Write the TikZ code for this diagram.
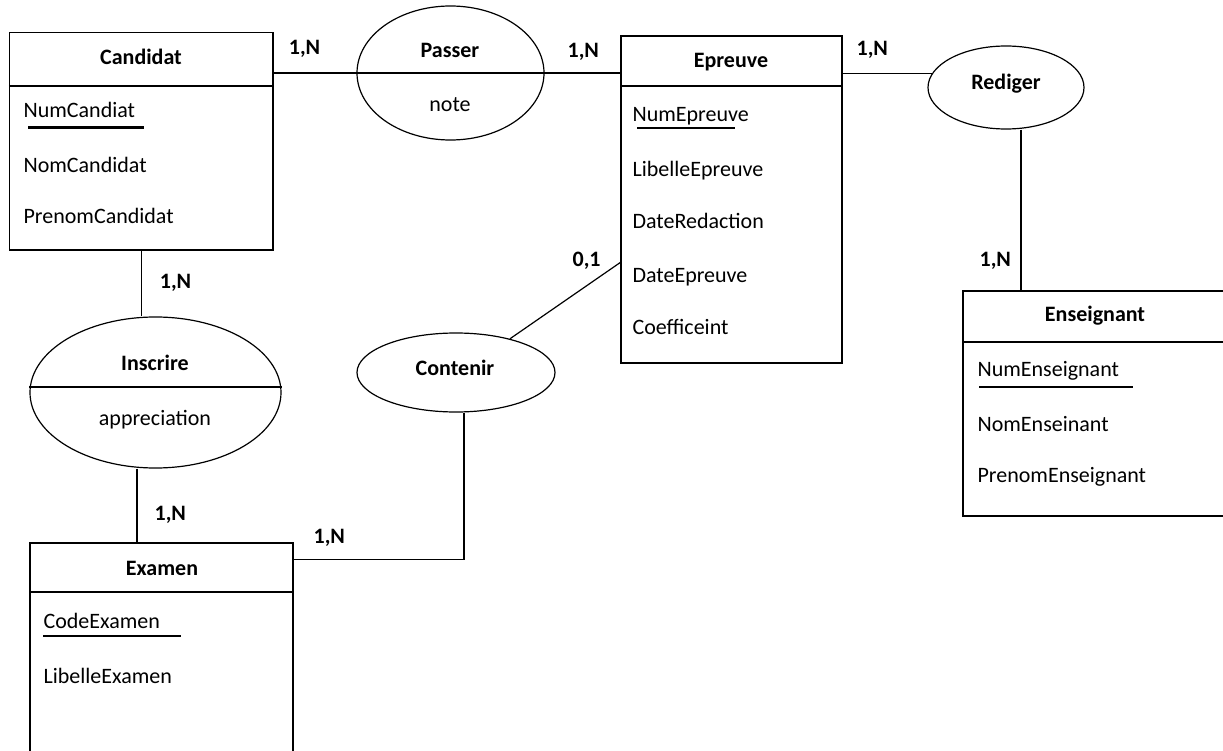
\documentclass[tikz,border=0pt]{standalone}
\usepackage{fontspec}
\setmainfont{Carlito}
\usetikzlibrary{shapes.geometric,calc}
\begin{document}
\begin{tikzpicture}[x=1pt,y=-1pt,
  line width=1.2pt,
  every node/.style={font=\fontsize{22}{26}\selectfont},
  entity/.style={draw, rectangle, inner sep=0pt},
  relation/.style={draw, ellipse, inner sep=0pt},
  ttl/.style={font=\fontsize{22}{26}\selectfont\bfseries, anchor=base, inner sep=0pt},
  attr/.style={anchor=base west, inner sep=0pt},
  card/.style={font=\fontsize{22}{26}\selectfont\bfseries, anchor=base west, inner sep=0pt},
  keyline/.style={line width=2.4pt},
  link/.style={line width=1.2pt}]
\useasboundingbox (0,0) rectangle (1223,751);
\clip (0,0) rectangle (1223,751);

% entities
\node[entity, minimum width=263.5pt, minimum height=217.3pt] (Candidat) at (141.25,141.35) {};
\node[entity, minimum width=221pt, minimum height=327pt] (Epreuve) at (731.5,199.5) {};
\node[entity, minimum width=300pt, minimum height=225pt] (Enseignant) at (1113,403.5) {};
\node[entity, minimum width=263pt, minimum height=260pt] (Examen) at (161.5,673) {};

\draw (Candidat.west |- 0,86) -- (Candidat.east |- 0,86);
\draw (Epreuve.west |- 0,86) -- (Epreuve.east |- 0,86);
\draw (Enseignant.west |- 0,342) -- (Enseignant.east |- 0,342);
\draw (Examen.west |- 0,592) -- (Examen.east |- 0,592);

% relations
\node[relation, minimum width=187pt, minimum height=134pt] (Passer) at (450.5,73) {};
\node[relation, minimum width=251pt, minimum height=151pt] (Inscrire) at (155.5,392.5) {};
\node[relation, minimum width=198pt, minimum height=79pt] (Contenir) at (456,372.5) {};
\node[relation, minimum width=156pt, minimum height=83pt] (Rediger) at (1006,87.5) {};

\draw (Passer.west) -- (Passer.east);
\draw ([yshift=5.5pt]Inscrire.west) -- ([yshift=5.5pt]Inscrire.east);

% titles
\node[ttl] (tCandidat) at (141,64.3) {Candidat};
\node[ttl] (tEpreuve) at (731,68) {Epreuve};
\node[ttl] (tEnseignant) at (1095,321.7) {Enseignant};
\node[ttl] (tExamen) at (162,575) {Examen};
\node[ttl] (tPasser) at (450,57.3) {Passer};
\node[ttl] (tInscrire) at (155,370) {Inscrire};
\node[ttl] (tContenir) at (455,375.7) {Contenir};
\node[ttl] (tRediger) at (1006,89.3) {Rediger};
\node[anchor=base, inner sep=0pt] (aNote) at (450,111.7) {note};
\node[anchor=base, inner sep=0pt] (aAppr) at (155,425) {appreciation};

% attributes
\node[attr] (aNumCandiat) at (23,118) {NumCandiat};
\node[attr] (aNomCandidat) at (23,172.3) {NomCandidat};
\node[attr] (aPrenomCandidat) at (23,224) {PrenomCandidat};
\draw[keyline] (28,127.7) -- (144,127.7);

\node[attr] (aNumEpreuve) at (632,121.7) {NumEpreuve};
\node[attr] (aLibelleEpreuve) at (632,176.7) {LibelleEpreuve};
\node[attr] (aDateRedaction) at (632,229) {DateRedaction};
\node[attr] (aDateEpreuve) at (632,283) {DateEpreuve};
\node[attr] (aCoeff) at (632,334) {Coefficeint};
\draw[keyline] (637,128) -- (735,128);

\node[attr] (aNumEns) at (977,376.7) {NumEnseignant};
\node[attr] (aNomEns) at (977,431.7) {NomEnseinant};
\node[attr] (aPrenomEns) at (977,482.7) {PrenomEnseignant};
\draw[keyline] (979,387) -- (1133,387);

\node[attr] (aCodeExamen) at (43,628) {CodeExamen};
\node[attr] (aLibelleExamen) at (43,683.3) {LibelleExamen};
\draw[keyline] (43,636) -- (181,636);

% connectors
\draw[link] (Candidat.east |- Passer.center) -- (Passer.west);
\draw[link] (Passer.east) -- (Epreuve.west |- Passer.center);
\draw[link] (Epreuve.east |- Rediger.169) -- (Rediger.169);
\draw[link] ([xshift=15pt]Rediger.south) -- ([xshift=15pt]Rediger.south |- Enseignant.north);
\draw[link] (Candidat.south) -- (Candidat.south |- Inscrire.north);
\draw[link] ([xshift=-18.5pt]Inscrire.south) -- ([xshift=-18.5pt]Inscrire.south |- Examen.north);
\draw[link] ([xshift=8pt]Contenir.south) |- ([yshift=-17pt]Examen.north east);
\draw[link] (Contenir.32) -- ([yshift=-227pt]Epreuve.north west);

% cardinalities
\node[card] (c1) at (288.3,55) {1,N};
\node[card] (c2) at (567,58) {1,N};
\node[card] (c3) at (856,56) {1,N};
\node[card] (c4) at (979,266.7) {1,N};
\node[card] (c5) at (572,266.7) {0,1};
\node[card] (c6) at (159.3,288.3) {1,N};
\node[card] (c7) at (154,520.7) {1,N};
\node[card] (c8) at (313,543.3) {1,N};
\end{tikzpicture}
\end{document}
